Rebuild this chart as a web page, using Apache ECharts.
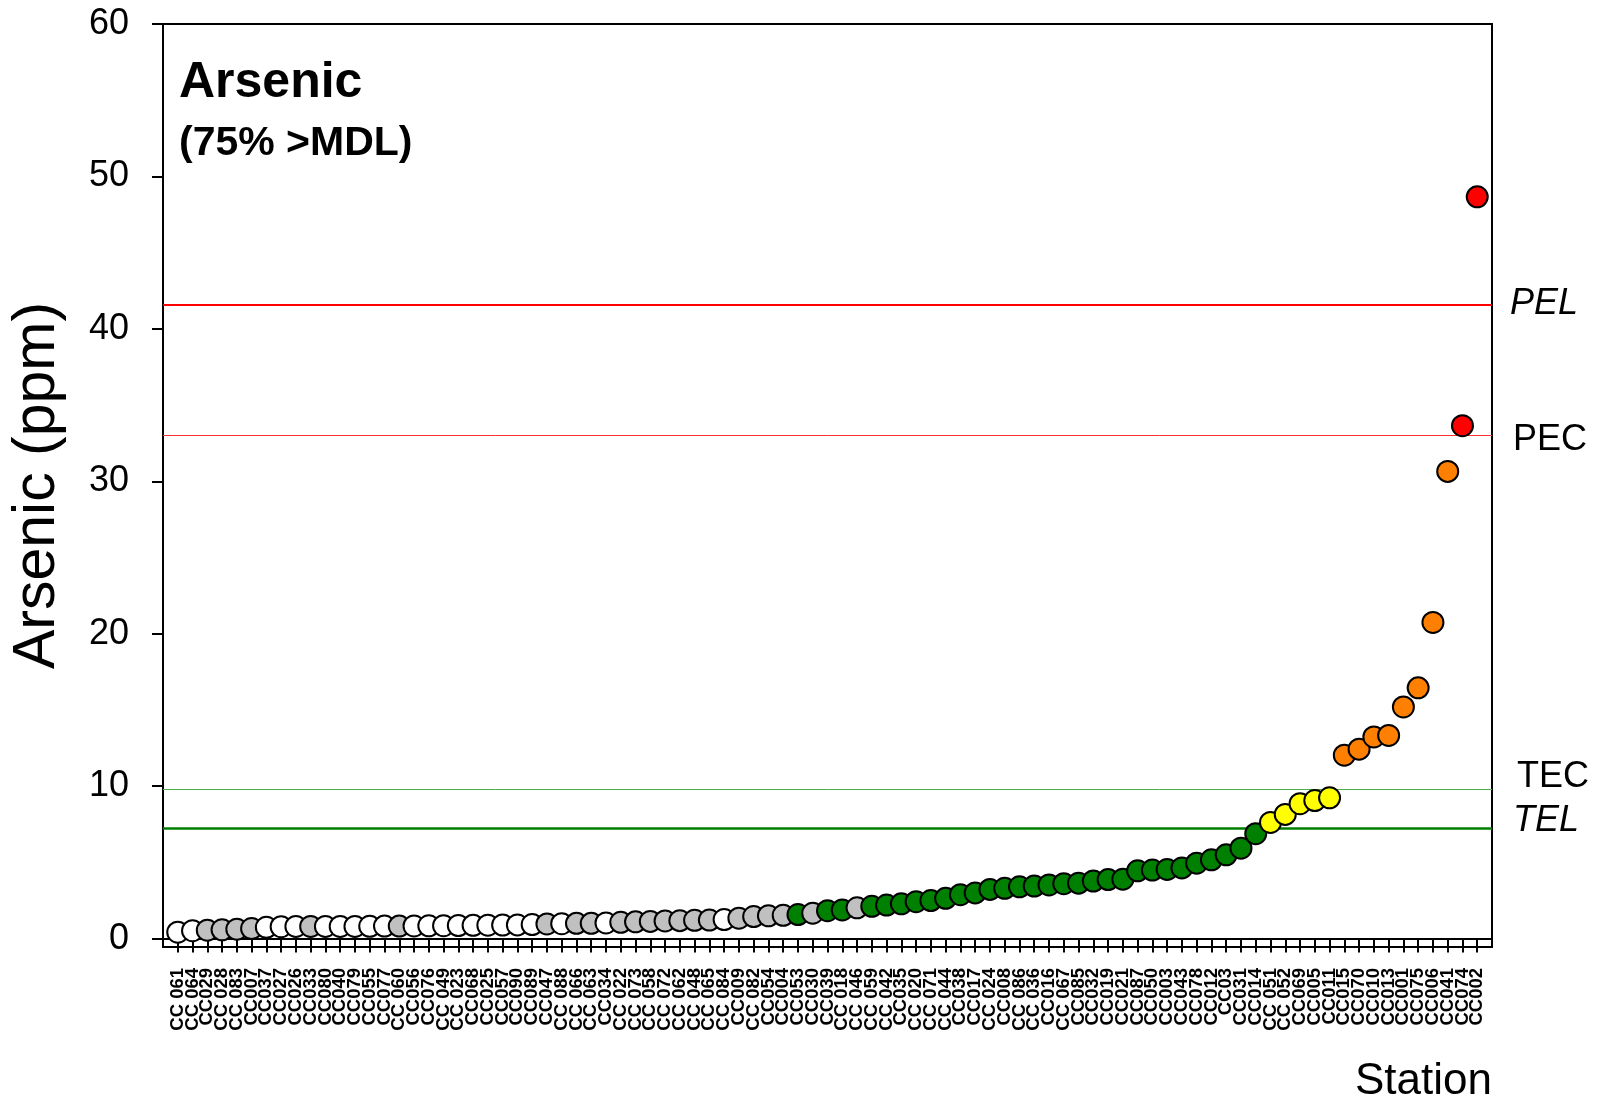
<!DOCTYPE html>
<html>
<head>
<meta charset="utf-8">
<script src="https://cdn.jsdelivr.net/npm/echarts@6/dist/echarts.min.js"></script>
<style>
html,body{margin:0;padding:0;background:#fff;}
#chart{width:1600px;height:1099px;}
</style>
</head>
<body>
<div id="chart"></div>
<script>
// Stations, sorted by arsenic concentration
var stations = ['CC 061','CC 064','CC029','CC 028','CC 083','CC007','CC037','CC027','CC026','CC033',
  'CC080','CC040','CC079','CC055','CC077','CC 060','CC056','CC076','CC 049','CC 023',
  'CC068','CC025','CC057','CC090','CC089','CC047','CC 088','CC 066','CC 063','CC034',
  'CC 022','CC 073','CC 058','CC 072','CC 062','CC 048','CC 065','CC 084','CC009','CC 082',
  'CC054','CC004','CC053','CC030','CC039','CC 018','CC 046','CC 059','CC 042','CC035',
  'CC 020','CC 071','CC 044','CC038','CC017','CC 024','CC008','CC 086','CC 036','CC016',
  'CC 067','CC085','CC032','CC019','CC021','CC087','CC050','CC003','CC043','CC078',
  'CC012','CC03','CC031','CC014','CC 051','CC 052','CC069','CC005','CC011','CC015',
  'CC070','CC010','CC013','CC001','CC075','CC006','CC041','CC074','CC002'];

// Arsenic (ppm)
var arsenic = [0.42,0.52,0.55,0.58,0.62,0.66,0.74,0.78,0.80,0.80,
  0.80,0.80,0.80,0.81,0.82,0.82,0.83,0.84,0.85,0.86,
  0.87,0.88,0.89,0.90,0.92,0.96,0.98,1.00,1.00,1.03,
  1.07,1.10,1.13,1.16,1.18,1.20,1.22,1.25,1.34,1.45,
  1.50,1.53,1.58,1.67,1.83,1.88,2.02,2.12,2.20,2.28,
  2.42,2.50,2.64,2.88,3.00,3.23,3.30,3.40,3.45,3.52,
  3.60,3.64,3.78,3.87,3.90,4.45,4.50,4.54,4.64,4.95,
  5.17,5.50,5.93,6.88,7.62,8.15,8.85,9.06,9.24,12.03,
  12.43,13.23,13.33,15.20,16.45,20.74,30.65,33.65,48.66];

// Marker class: W = white, G = grey, D = detected (coloured by guideline)
var markerClass = ['W','W','G','G','G','G','W','W','W','G',
  'W','W','W','W','W','G','W','W','W','W',
  'W','W','W','W','W','G','W','G','G','W',
  'G','G','G','G','G','G','G','W','G','G',
  'G','G','D','G','D','D','G','D','D','D',
  'D','D','D','D','D','D','D','D','D','D',
  'D','D','D','D','D','D','D','D','D','D',
  'D','D','D','D','D','D','D','D','D','D',
  'D','D','D','D','D','D','D','D','D'];

// Sediment guidelines
var guideNames = ['PEL','PEC','TEC','TEL'];
var guideValues = [41.6, 33.0, 9.79, 7.24];

var yTicks = [0,10,20,30,40,50,60];

var FONT = '"Liberation Sans", Arial, Helvetica, sans-serif';

function colorFor(cls, v) {
  if (cls === 'W') return '#ffffff';
  if (cls === 'G') return '#c0c0c0';
  if (v < guideValues[3]) return '#008000';
  if (v < guideValues[2]) return '#ffff00';
  if (v < guideValues[1]) return '#ff8000';
  return '#ff0000';
}

var N = stations.length;
var cats = [''].concat(stations, ['']);
var pts = stations.map(function (s, i) {
  return { value: [i + 1, arsenic[i]], itemStyle: { color: colorFor(markerClass[i], arsenic[i]) } };
});

var lineStyles = [
  { color: '#ff0000', width: 2, type: 'solid' },
  { color: '#ff3030', width: 1, type: 'solid' },
  { color: '#4cb04c', width: 1, type: 'solid' },
  { color: '#008000', width: 2.5, type: 'solid' }
];
// label placement: text shifted off the line by an empty line of given height
var labelStyles = [
  { fontStyle: 'italic', distance: 18, shift: 'none', lh: 36 },
  { fontStyle: 'normal', distance: 21, shift: 'down', lh: 10 },
  { fontStyle: 'normal', distance: 25, shift: 'up', lh: 24 },
  { fontStyle: 'italic', distance: 21, shift: 'up', lh: 14 }
];
var markData = guideNames.map(function (n, i) {
  var ls = labelStyles[i];
  var txt = ls.shift === 'up' ? n + '\n ' : (ls.shift === 'down' ? ' \n' + n : n);
  return {
    name: n, yAxis: guideValues[i],
    lineStyle: lineStyles[i],
    label: {
      show: true, position: 'end',
      formatter: txt,
      color: '#000',
      fontSize: 36, fontFamily: FONT, lineHeight: ls.lh,
      fontStyle: ls.fontStyle,
      distance: ls.distance
    }
  };
});

var chart = echarts.init(document.getElementById('chart'), null, { renderer: 'canvas' });
chart.setOption({
  animation: false,
  backgroundColor: '#ffffff',
  title: {
    text: 'Arsenic',
    subtext: '(75% >MDL)',
    left: 174, top: 53, itemGap: 15,
    textStyle: { fontSize: 50, fontWeight: 'bold', color: '#000', fontFamily: FONT },
    subtextStyle: { fontSize: 41, fontWeight: 'bold', color: '#000', fontFamily: FONT }
  },
  grid: {
    left: 163, right: 108, top: 24, bottom: 152,
    outerBoundsMode: 'none', containLabel: false,
    show: true, borderColor: '#000', borderWidth: 2
  },
  xAxis: {
    type: 'category',
    data: cats,
    boundaryGap: false,
    name: 'Station',
    nameLocation: 'end',
    nameGap: 0,
    nameTextStyle: { fontSize: 44, color: '#000', fontFamily: FONT, align: 'right', verticalAlign: 'top', padding: [121, 0, 0, 0] },
    axisLine: { lineStyle: { color: '#000', width: 2 } },
    axisTick: {
      show: true, inside: false, length: 14,
      interval: function (idx) { return idx > 0 && idx < N + 1; },
      lineStyle: { color: '#000', width: 2 }
    },
    axisLabel: {
      interval: 0, rotate: 90, margin: 21,
      fontSize: 18.5, fontWeight: 'bold', color: '#000', fontFamily: FONT
    },
    splitLine: { show: false }
  },
  yAxis: {
    type: 'value',
    min: -0.55, max: 60,
    name: 'Arsenic (ppm)',
    nameLocation: 'middle',
    nameGap: 96,
    nameTextStyle: { fontSize: 59, color: '#000', fontFamily: FONT },
    axisLine: { show: true, lineStyle: { color: '#000', width: 2 } },
    axisTick: { show: true, inside: false, length: 11, customValues: yTicks, lineStyle: { color: '#000', width: 2 } },
    axisLabel: { customValues: yTicks, fontSize: 36, margin: 34, color: '#000', fontFamily: FONT },
    splitLine: { show: false }
  },
  series: [{
    type: 'scatter',
    data: pts,
    symbol: 'circle',
    symbolSize: 21,
    z: 3,
    itemStyle: { borderColor: '#000', borderWidth: 2, opacity: 1 },
    markLine: {
      silent: true,
      symbol: ['none', 'none'],
      z: 1,
      data: markData
    }
  }]
});
</script>
</body>
</html>
